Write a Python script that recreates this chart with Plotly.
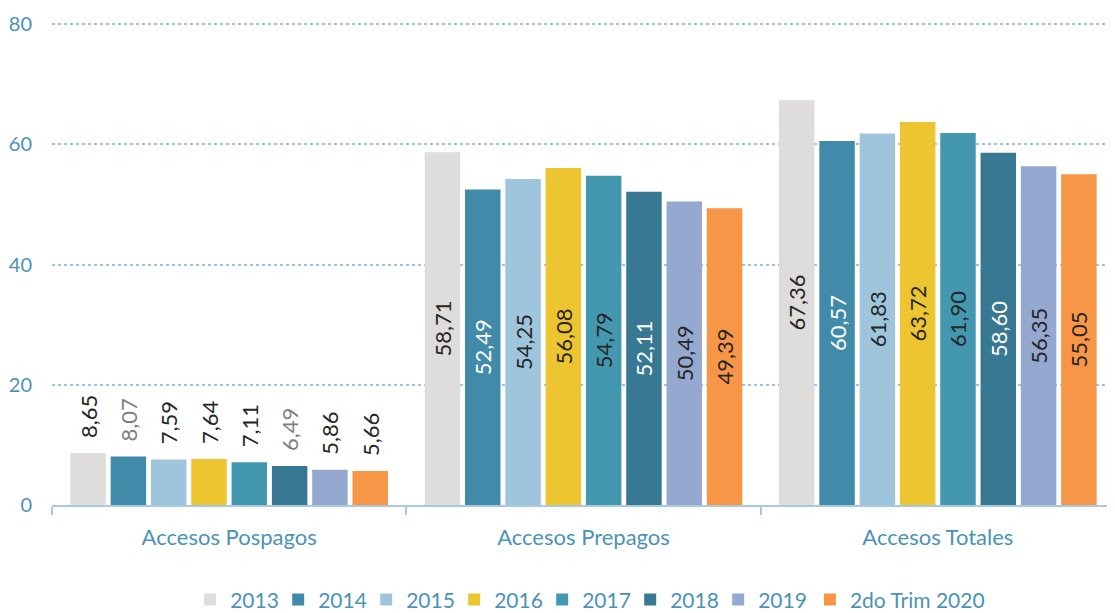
import plotly.graph_objects as go

categories = ["Accesos Pospagos", "Accesos Prepagos", "Accesos Totales"]
series_names = ["2013", "2014", "2015", "2016", "2017", "2018", "2019", "2do Trim 2020"]
values = {
    "2013": [8.65, 58.71, 67.36],
    "2014": [8.07, 52.49, 60.57],
    "2015": [7.59, 54.25, 61.83],
    "2016": [7.64, 56.08, 63.72],
    "2017": [7.11, 54.79, 61.90],
    "2018": [6.49, 52.11, 58.60],
    "2019": [5.86, 50.49, 56.35],
    "2do Trim 2020": [5.66, 49.39, 55.05],
}
colors = {
    "2013": "#DEDDDC",
    "2014": "#418AAA",
    "2015": "#9FC5DC",
    "2016": "#ECC531",
    "2017": "#4398B0",
    "2018": "#387892",
    "2019": "#94A8D0",
    "2do Trim 2020": "#F79646",
}
white_text = {"2014", "2018"}
y_ticks = [0, 20, 40, 60, 80]

FONT = "Lato"
AXIS_COLOR = "#4A93B5"
LABEL_SIZE = 22


def fmt(v):
    return f"{v:.2f}".replace(".", ",")


fig = go.Figure()
for i, name in enumerate(series_names):
    vals = values[name]
    inside_col = "white" if name in white_text else "#262626"
    outside_col = "#7F7F7F" if name in white_text else "#262626"
    leg = "legend2" if i == len(series_names) - 1 else "legend"
    fig.add_trace(go.Bar(
        name=name,
        x=categories,
        y=vals,
        offsetgroup=name,
        legend=leg,
        marker=dict(color=colors[name], line=dict(width=0)),
        text=["", fmt(vals[1]), fmt(vals[2])],
        textposition="inside",
        insidetextanchor="middle",
        textangle=-90,
        constraintext="none",
        insidetextfont=dict(family=FONT, size=LABEL_SIZE, color=inside_col),
        cliponaxis=False,
    ))
    # transparent label holder above the small "Pospagos" bars
    fig.add_trace(go.Bar(
        name=name + " label",
        x=[categories[0]],
        y=[9.5],
        base=[vals[0] + 2.0],
        offsetgroup=name,
        marker=dict(color="rgba(0,0,0,0)", line=dict(width=0)),
        text=[fmt(vals[0])],
        textposition="inside",
        insidetextanchor="start",
        textangle=-90,
        constraintext="none",
        insidetextfont=dict(family=FONT, size=LABEL_SIZE, color=outside_col),
        showlegend=False,
        hoverinfo="skip",
        cliponaxis=False,
    ))

legend_common = dict(
    orientation="h",
    yanchor="middle", y=-0.197,
    xanchor="left",
    font=dict(family=FONT, size=21, color=AXIS_COLOR),
    traceorder="normal",
    itemwidth=30,
    bgcolor="rgba(0,0,0,0)",
)

fig.update_layout(
    width=1107, height=605,
    margin=dict(l=44, r=0, t=15, b=108, autoexpand=False),
    paper_bgcolor="white", plot_bgcolor="white",
    barmode="group",
    bargap=0.09,
    bargroupgap=0.12,
    font=dict(family=FONT, color=AXIS_COLOR),
    showlegend=True,
    legend=dict(legend_common, x=0.130, entrywidth=43, entrywidthmode="pixels"),
    legend2=dict(legend_common, x=0.713),
)
fig.update_xaxes(
    showline=True, linecolor="#A6CBE0", linewidth=1.5,
    ticks="outside", tickson="boundaries", ticklen=8, tickcolor="#A6CBE0", tickwidth=1.5,
    tickfont=dict(family=FONT, size=22, color=AXIS_COLOR),
    ticklabelstandoff=12,
    showgrid=False,
)
fig.update_yaxes(
    range=[0, 80.2], tickvals=y_ticks,
    showgrid=True, gridcolor="#9BC5DE", griddash="dot", gridwidth=1.5,
    showline=False, zeroline=False,
    tickfont=dict(family=FONT, size=20, color=AXIS_COLOR),
    ticks="", ticklabelstandoff=19,
)

fig.write_html("out.html")
